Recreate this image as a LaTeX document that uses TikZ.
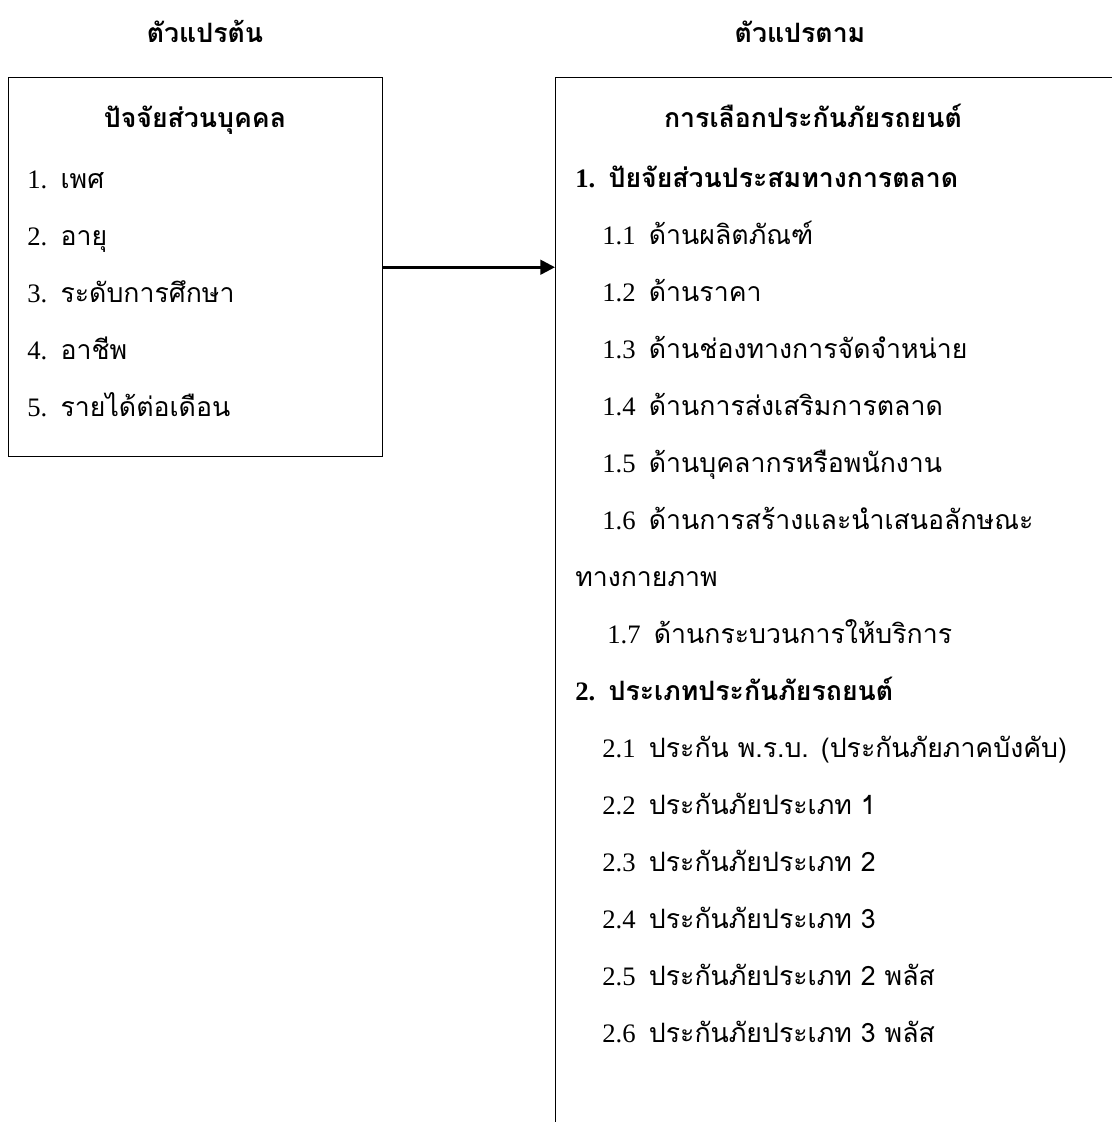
\documentclass[tikz,border=0pt]{standalone}
\usepackage{fontspec}
\setmainfont{Liberation Serif}
\newfontfamily\thaifont[Script=Thai]{Loma}
\usetikzlibrary{positioning,arrows.meta}

\tikzset{
  item/.style={anchor=base west,inner sep=0pt,font=\fontsize{20}{24}\selectfont},
  head/.style={anchor=base,inner sep=0pt,font=\fontsize{20}{24}\selectfont\bfseries\thaifont},
  frame/.style={draw,line width=1.1pt,anchor=north west,inner sep=0pt}
}

\begin{document}
\begin{tikzpicture}[x=0.75pt,y=-0.75pt]
\useasboundingbox (0,0) rectangle (1112,1122);
\clip (0,0) rectangle (1112,1122);
% titles
\node[head] (indep) at (205,42) {ตัวแปรต้น};
\node[head] (dep) at (800,42) {ตัวแปรตาม};
% boxes
\node[frame,minimum width=280.5pt,minimum height=284.25pt] (lbox) at (8,77) {};
\node[frame,minimum width=600pt,minimum height=900pt] (rbox) at (555,77) {};
\node[head] (pers) at (195,127) {ปัจจัยส่วนบุคคล};
\node[head] (choice) at (813,127) {การเลือกประกันภัยรถยนต์};
% left items
\foreach \i/\t in {1/เพศ,2/อายุ,3/ระดับการศึกษา,4/อาชีพ,5/รายได้ต่อเดือน}{
  \node[item] (p\i) at (27,{131+57*\i}) {\i.\ \ {\thaifont\t}};}
% right items
\node[item,font=\fontsize{20}{24}\selectfont\bfseries] (m) at (575,187) {1.\ \ {\thaifont ปัยจัยส่วนประสมทางการตลาด}};
\foreach \i/\t in {1/ด้านผลิตภัณฑ์,2/ด้านราคา,3/ด้านช่องทางการจัดจำหน่าย,4/ด้านการส่งเสริมการตลาด,5/ด้านบุคลากรหรือพนักงาน,6/ด้านการสร้างและนำเสนอลักษณะ}{
  \node[item] (m\i) at (602,{187+57*\i}) {1.\i\ \ {\thaifont\t}};}
\node[item] (m6b) at (575,586) {\thaifont ทางกายภาพ};
\node[item] (m7) at (607,643) {1.7\ \ {\thaifont ด้านกระบวนการให้บริการ}};
\node[item,font=\fontsize{20}{24}\selectfont\bfseries] (t) at (575,700) {2.\ \ {\thaifont ประเภทประกันภัยรถยนต์}};
\foreach \i/\t in {1/ประกัน พ.ร.บ. (ประกันภัยภาคบังคับ),2/ประกันภัยประเภท 1,3/ประกันภัยประเภท 2,4/ประกันภัยประเภท 3,5/ประกันภัยประเภท 2 พลัส,6/ประกันภัยประเภท 3 พลัส}{
  \node[item] (t\i) at (602,{700+57*\i}) {2.\i\ \ {\thaifont\t}};}
% connector
\draw[line width=2pt,-{Triangle[length=11pt,width=11pt]}] (lbox.east) -- (lbox.east -| rbox.west);
\end{tikzpicture}
\end{document}
